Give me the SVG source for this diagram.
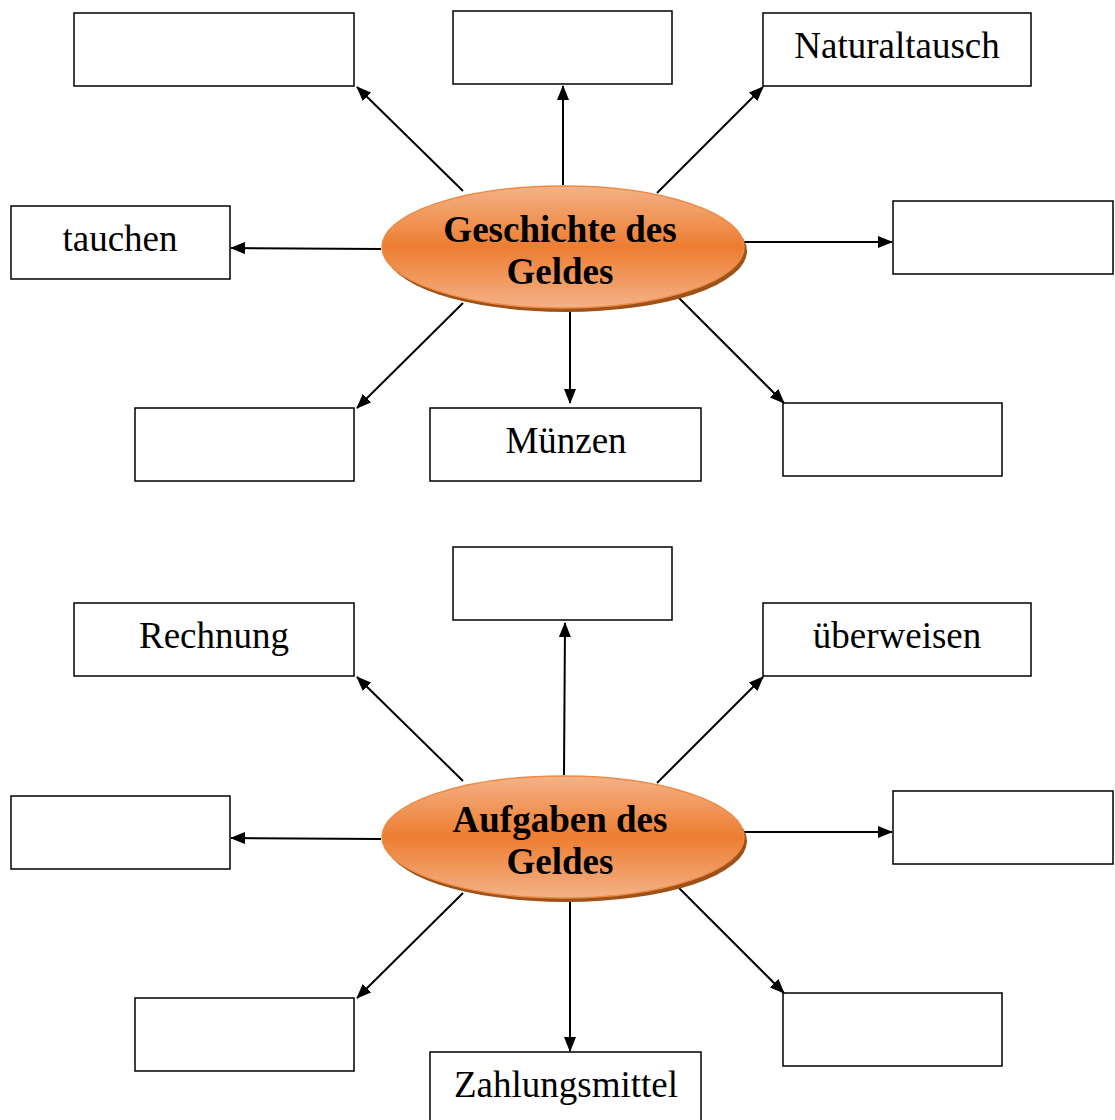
<svg xmlns="http://www.w3.org/2000/svg" width="1115" height="1120" viewBox="0 0 1115 1120">
<style>
.box{fill:#fff;stroke:#000;stroke-width:1.5}
.t{font-family:"Liberation Serif","Times New Roman",serif;font-size:37px;fill:#000;text-anchor:middle}
.c{font-family:"Liberation Serif","Times New Roman",serif;font-size:37px;font-weight:bold;fill:#000;text-anchor:middle}
.ln{stroke:#000;stroke-width:2;fill:none;marker-end:url(#ah)}
.el{fill:url(#og);stroke:#ee8a45;stroke-width:1.5}
.sh{fill:#9c5218}
</style>
<defs>
<marker id="ah" viewBox="0 0 15 12" refX="14" refY="6" markerWidth="15" markerHeight="12" markerUnits="userSpaceOnUse" orient="auto">
<path d="M0,0 L15,6 L0,12 z" fill="#000"/>
</marker>
<linearGradient id="og" x1="0" y1="0" x2="0" y2="1">
<stop offset="0" stop-color="#f4b287"/>
<stop offset="0.5" stop-color="#ed7d31"/>
<stop offset="1" stop-color="#f4b287"/>
</linearGradient>
</defs>
<g id="connectors">
<line class="ln" x1="463" y1="191" x2="357" y2="87"/>
<line class="ln" x1="563" y1="185" x2="563" y2="86"/>
<line class="ln" x1="657" y1="193" x2="763" y2="87"/>
<line class="ln" x1="381" y1="249" x2="231" y2="248"/>
<line class="ln" x1="742" y1="242" x2="892" y2="242"/>
<line class="ln" x1="463" y1="303" x2="357" y2="408"/>
<line class="ln" x1="570" y1="310" x2="570" y2="403"/>
<line class="ln" x1="679" y1="298" x2="784" y2="403"/>
<line class="ln" x1="463" y1="781" x2="357" y2="677"/>
<line class="ln" x1="564" y1="775" x2="565" y2="623"/>
<line class="ln" x1="657" y1="783" x2="763" y2="677"/>
<line class="ln" x1="381" y1="839" x2="231" y2="838"/>
<line class="ln" x1="742" y1="832" x2="892" y2="832"/>
<line class="ln" x1="463" y1="893" x2="357" y2="998"/>
<line class="ln" x1="570" y1="900" x2="570" y2="1051"/>
<line class="ln" x1="679" y1="888" x2="784" y2="993"/>
</g>
<g id="center1">
<ellipse class="sh" cx="566" cy="251" rx="181" ry="61"/>
<ellipse class="el" cx="563" cy="247" rx="181" ry="61"/>
<text class="c" x="560" y="242">Geschichte des</text>
<text class="c" x="560" y="284">Geldes</text>
</g>
<g id="center2">
<ellipse class="sh" cx="566" cy="841" rx="181" ry="61"/>
<ellipse class="el" cx="563" cy="837" rx="181" ry="61"/>
<text class="c" x="560" y="832">Aufgaben des</text>
<text class="c" x="560" y="874">Geldes</text>
</g>
<g id="g1-tl"><rect class="box" x="74" y="13" width="280" height="73"/></g>
<g id="g1-tc"><rect class="box" x="453" y="11" width="219" height="73"/></g>
<g id="g1-tr"><rect class="box" x="763" y="13" width="268" height="73"/><text class="t" x="897" y="58">Naturaltausch</text></g>
<g id="g1-l"><rect class="box" x="11" y="206" width="219" height="73"/><text class="t" x="120" y="251">tauchen</text></g>
<g id="g1-r"><rect class="box" x="893" y="201" width="220" height="73"/></g>
<g id="g1-bl"><rect class="box" x="135" y="408" width="219" height="73"/></g>
<g id="g1-bc"><rect class="box" x="430" y="408" width="271" height="73"/><text class="t" x="566" y="453">Münzen</text></g>
<g id="g1-br"><rect class="box" x="783" y="403" width="219" height="73"/></g>
<g id="g2-tl"><rect class="box" x="74" y="603" width="280" height="73"/><text class="t" x="214" y="648">Rechnung</text></g>
<g id="g2-tc"><rect class="box" x="453" y="547" width="219" height="73"/></g>
<g id="g2-tr"><rect class="box" x="763" y="603" width="268" height="73"/><text class="t" x="897" y="648">überweisen</text></g>
<g id="g2-l"><rect class="box" x="11" y="796" width="219" height="73"/></g>
<g id="g2-r"><rect class="box" x="893" y="791" width="220" height="73"/></g>
<g id="g2-bl"><rect class="box" x="135" y="998" width="219" height="73"/></g>
<g id="g2-bc"><rect class="box" x="430" y="1052" width="271" height="73"/><text class="t" x="566" y="1097">Zahlungsmittel</text></g>
<g id="g2-br"><rect class="box" x="783" y="993" width="219" height="73"/></g>
</svg>
